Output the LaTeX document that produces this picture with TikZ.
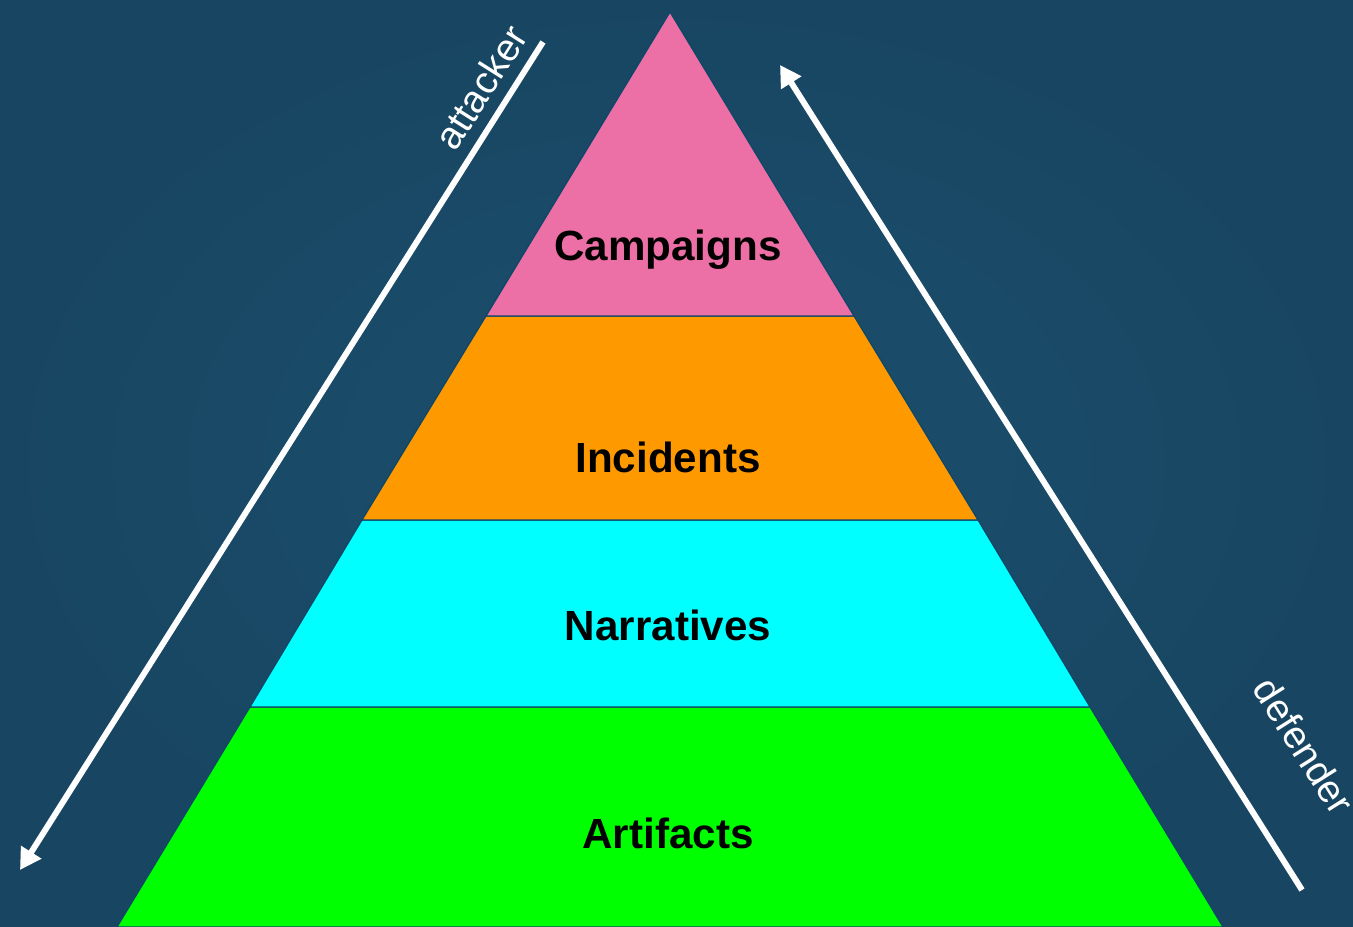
\documentclass[tikz,border=0pt]{standalone}
\usepackage{fontspec}
\setmainfont{Liberation Sans}
\usetikzlibrary{arrows.meta}
\definecolor{bgblue}{HTML}{1B4F6E}
\definecolor{bgdark}{HTML}{184662}
\definecolor{edgeblue}{HTML}{0E4668}
\definecolor{campaignpink}{HTML}{EC6FA5}
\definecolor{incidentorange}{HTML}{FF9900}
\definecolor{narrativecyan}{HTML}{00FFFF}
\definecolor{artifactgreen}{HTML}{00FF00}
\tikzset{
  band/.style={draw=edgeblue, line width=0.7pt, line join=round},
  level/.style={font=\fontsize{24}{28}\selectfont\bfseries, text=black},
  side/.style={font=\fontsize{22}{26}\selectfont, text=white},
  flow/.style={draw=white, line width=3.4pt, -{Triangle[width=13pt,length=12pt]}}
}
\begin{document}
\begin{tikzpicture}[x=0.2mm,y=0.2mm]
	% background
	\useasboundingbox (0,0) rectangle (1353,927);
	\shade[inner color=bgblue, outer color=bgdark] (0,0) rectangle (1353,927);
	
	% corners of the bands
	\coordinate (apex) at (670,915);
	\coordinate (L1) at (486,611);  \coordinate (R1) at (854,611);
	\coordinate (L2) at (362,407);  \coordinate (R2) at (978,407);
	\coordinate (L3) at (250,220);  \coordinate (R3) at (1090,220);
	\coordinate (L4) at (117,0);    \coordinate (R4) at (1223,0);
	
	\filldraw[band, fill=artifactgreen] (L3)--(R3)--(R4)--(L4)--cycle;
	\filldraw[band, fill=narrativecyan] (L2)--(R2)--(R3)--(L3)--cycle;
	\filldraw[band, fill=incidentorange] (L1)--(R1)--(R2)--(L2)--cycle;
	\filldraw[band, fill=campaignpink] (apex)--(R1)--(L1)--cycle;
	
	\node[level] (campaigns) at (668,677) {Campaigns};
	\node[level] (incidents) at (668,470) {Incidents};
	\node[level] (narratives) at (668,302) {Narratives};
	\node[level] (artifacts) at (668,94) {Artifacts};
	
	% attacker and defender arrows
	\coordinate (atktop) at (543,885);
	\coordinate (atkend) at (20,57);
	\coordinate (deflow) at (1302,37);
	\coordinate (deftop) at (780,862);
	\draw[flow] (atktop)--(atkend);
	\draw[flow] (deflow)--(deftop);
	
	\node[side, rotate=57.7] (attacker) at (481,840) {attacker};
	\node[side, rotate=-57.7] (defender) at (1304,181) {defender};
\end{tikzpicture}
\end{document}
